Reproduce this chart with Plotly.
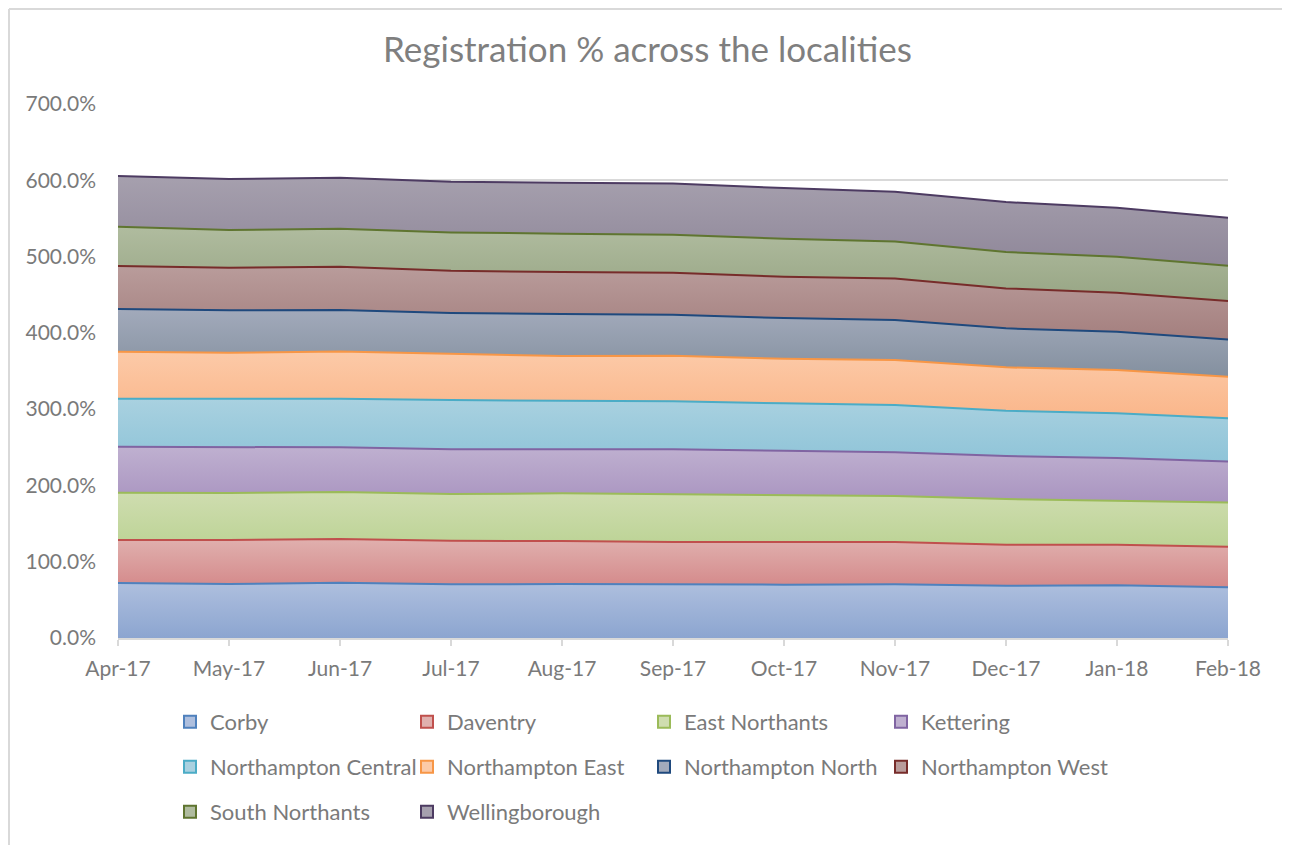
import plotly.graph_objects as go
import numpy as np

months = ["Apr-17", "May-17", "Jun-17", "Jul-17", "Aug-17", "Sep-17",
          "Oct-17", "Nov-17", "Dec-17", "Jan-18", "Feb-18"]

corby = [72.1, 70.8, 72.5, 70.4, 70.8, 69.9, 69.9, 70.4, 68.5, 69.1, 66.4]
daventry = [56.3, 57.6, 57.3, 57.1, 56.3, 55.9, 55.9, 55.4, 53.8, 53.2, 53.3]
east_northants = [62.0, 61.6, 61.5, 61.2, 62.5, 62.9, 61.2, 60.3, 59.9, 57.7, 57.9]
kettering = [60.3, 59.9, 58.6, 58.6, 57.7, 58.6, 58.5, 57.3, 56.3, 55.9, 53.8]
northampton_central = [62.9, 63.7, 63.7, 64.6, 63.7, 62.9, 62.1, 62.0, 59.4, 58.6, 56.6]
northampton_east = [61.6, 60.3, 62.1, 61.2, 58.6, 59.8, 58.5, 58.9, 56.9, 56.7, 54.5]
northampton_north = [56.0, 55.6, 54.2, 52.9, 55.0, 53.7, 53.3, 52.5, 51.1, 50.2, 48.9]
northampton_west = [56.3, 55.8, 56.7, 55.4, 55.1, 55.1, 54.1, 54.6, 52.4, 51.2, 50.3]
south_northants = [51.6, 49.4, 49.8, 50.3, 50.2, 49.8, 49.8, 48.5, 47.6, 47.2, 46.3]
wellingborough = [66.4, 66.9, 66.9, 66.3, 66.8, 67.3, 66.5, 65.0, 65.5, 64.2, 62.9]

names = ["Corby", "Daventry", "East Northants", "Kettering",
         "Northampton Central", "Northampton East", "Northampton North",
         "Northampton West", "South Northants", "Wellingborough"]
series = [corby, daventry, east_northants, kettering, northampton_central,
          northampton_east, northampton_north, northampton_west,
          south_northants, wellingborough]

line_colors = ["#4F81BD", "#C0504D", "#9BBB59", "#8064A2", "#4BACC6",
               "#F79646", "#1F497D", "#772C2A", "#5F7530", "#4D3B62"]
fill_top = ["#AEBFDE", "#E0B0AE", "#CFDDB0", "#BFB0D0", "#A9D1E0",
            "#FCCAA8", "#A2AABB", "#B99C9B", "#B0BC9F", "#A6A0AE"]
fill_bot = ["#8CA5D0", "#D4898A", "#BCD395", "#A994C0", "#8FC4D8",
            "#FAB68A", "#84909F", "#A47F7E", "#97A584", "#8F8799"]

fig = go.Figure()

lower = np.zeros(len(months))
for i, (nm, vals) in enumerate(zip(names, series)):
    upper = lower + np.array(vals)
    fig.add_trace(go.Scatter(
        x=months, y=vals, name=nm, stackgroup="one", mode="lines",
        line=dict(color=line_colors[i], width=2),
        fillgradient=dict(type="vertical",
                          colorscale=[[0, fill_bot[i]], [1, fill_top[i]]],
                          start=float(lower.min()), stop=float(upper.max())),
        showlegend=False, hoverinfo="skip",
    ))
    lower = upper

# legend entries (square markers like the Excel legend), 4 per row
legend_rows = ["legend"] * 4 + ["legend2"] * 4 + ["legend3"] * 2
for k, nm in enumerate(names):
    fig.add_trace(go.Scatter(
        x=[None], y=[None], mode="markers", name=nm,
        marker=dict(symbol="square", size=12, color=fill_top[k],
                    line=dict(color=line_colors[k], width=2)),
        legend=legend_rows[k], legendwidth=192, showlegend=True,
    ))

gray = "#7a7a7a"
grid = "#D9D9D9"
font_family = "Lato, 'Open Sans', sans-serif"


def py(p):
    return (638 - p) / 534


def px(p):
    return (p - 118) / 1110


leg_common = dict(orientation="h", x=px(170), xanchor="left", yanchor="middle",
                  traceorder="normal",
                  font=dict(size=22, color=gray, family=font_family),
                  bgcolor="rgba(0,0,0,0)", itemclick=False, itemdoubleclick=False)

fig.update_layout(
    width=1282, height=837,
    margin=dict(l=110, r=62, t=96, b=207),
    paper_bgcolor="white", plot_bgcolor="white",
    font=dict(family=font_family, color=gray),
    title=dict(text="Registration % across the localities",
               x=(647.5 - 8) / 1282, xanchor="center", y=1 - 42 / 837, yanchor="middle",
               font=dict(size=35, color="#7f7f7f", family=font_family)),
    xaxis=dict(type="category", range=[0, len(months) - 1],
               showgrid=False, showline=True, linecolor=grid, linewidth=1.5,
               ticks="outside", ticklen=6, tickcolor=grid, tickwidth=1.5,
               tickfont=dict(size=21, color=gray), ticklabelstandoff=5,
               fixedrange=True),
    yaxis=dict(range=[0, 700], dtick=100, tickformat=".1f", ticksuffix="%",
               showgrid=True, gridcolor=grid, gridwidth=1.5, zeroline=False,
               showline=False, tickfont=dict(size=21, color=gray),
               ticklabelstandoff=21, fixedrange=True),
    legend=dict(y=py(722), **leg_common),
    legend2=dict(y=py(767), **leg_common),
    legend3=dict(y=py(812), **leg_common),
    shapes=[
        dict(type="line", xref="paper", yref="paper", x0=px(9), x1=px(1290),
             y0=py(9), y1=py(9), line=dict(color=grid, width=2)),
        dict(type="line", xref="paper", yref="paper", x0=px(9), x1=px(9),
             y0=py(9), y1=py(845), line=dict(color=grid, width=2)),
    ],
)

fig.write_html("out.html")
